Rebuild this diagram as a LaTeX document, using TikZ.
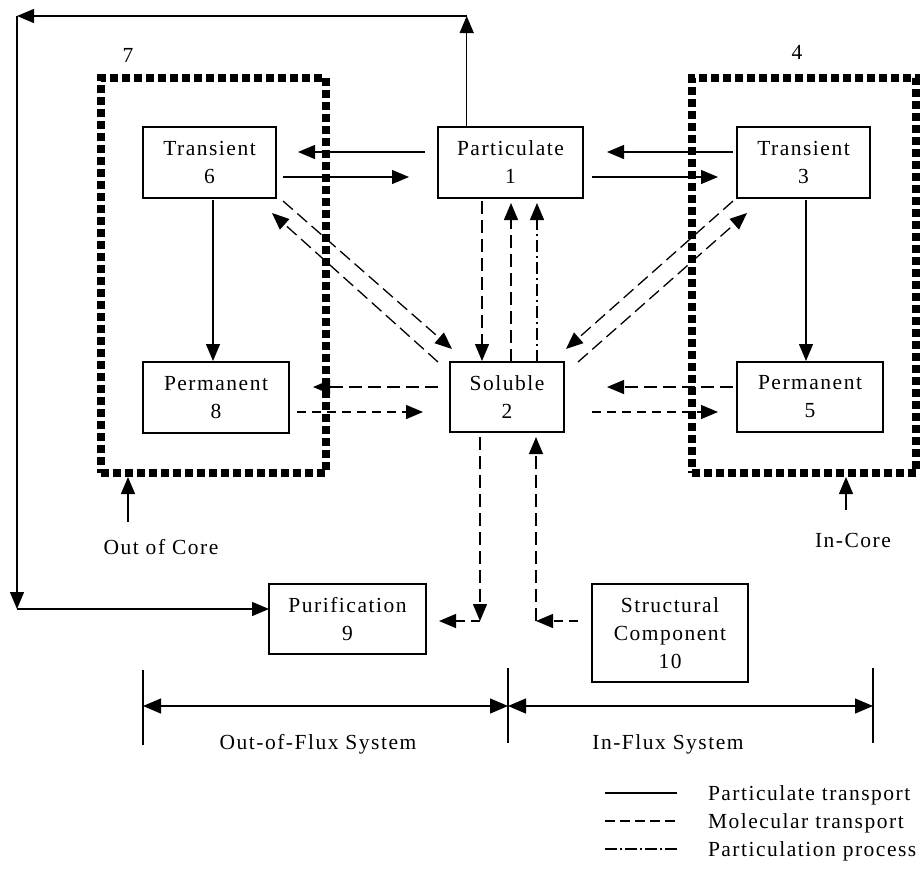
\documentclass[tikz,border=0pt]{standalone}
\usepackage{fontspec}
\setmainfont{Liberation Serif}[LetterSpace=7]
\usetikzlibrary{arrows.meta,calc}
\begin{document}
\begin{tikzpicture}[x=1pt,y=-1pt,
  font=\fontsize{21.5}{28}\selectfont,
  every node/.style={inner sep=0pt, outer sep=0pt},
  box/.style={draw, line width=1.3pt, align=center, minimum height=71pt},
  dotbox/.style={draw, line width=8pt, dash pattern=on 8pt off 4pt},
  conn/.style={line width=1.3pt, -{Triangle[length=17pt,width=14pt]}},
  plain/.style={line width=1.3pt},
  mol/.style={dash pattern=on 13pt off 6pt},
  mols/.style={dash pattern=on 9pt off 6pt},
  part/.style={dash pattern=on 12pt off 4pt on 2pt off 4pt},
  legmol/.style={dash pattern=on 10pt off 5pt},
  legpart/.style={dash pattern=on 12pt off 3pt on 2pt off 3pt},
  dimarr/.style={line width=1.3pt, {Triangle[length=18pt,width=15pt]}-{Triangle[length=18pt,width=15pt]}},
]
\useasboundingbox (0,0) rectangle (921,887);

% dotted groups
\node[dotbox, minimum width=225pt, minimum height=395pt] (b7) at (213.5,275.5) {};
\node[dotbox, minimum width=224pt, minimum height=395pt] (b4) at (804,275.5) {};
\node[anchor=base] (l7) at (128,62) {7};
\node[anchor=base] (l4) at (797,59) {4};

% boxes
\node[box, minimum width=133pt] (t6) at (209.5,162.5) {Transient\\6};
\node[box, minimum width=145pt] (p1) at (510.5,162.5) {Particulate\\1};
\node[box, minimum width=133pt] (t3) at (803.5,162.5) {Transient\\3};
\node[box, minimum width=146pt] (p8) at (216,397.5) {Permanent\\8};
\node[box, minimum width=114pt, minimum height=70pt] (s2) at (507,397) {Soluble\\2};
\node[box, minimum width=146pt, minimum height=70pt] (p5) at (810,397) {Permanent\\5};
\node[box, minimum width=157pt, minimum height=70pt] (p9) at (347.5,619) {Purification\\9};
\node[box, minimum width=156pt, minimum height=98pt] (p10) at (670,633) {Structural\\Component\\10};

% outer loop
\coordinate (tr) at (466.7,16);
\coordinate (tl) at (17,16);
\coordinate (bl) at (17,609);
\draw[conn] (p1.north -| tr) -- (tr);
\draw[conn] (tr) -- (tl);
\draw[conn] (tl) -- (bl);
\draw[conn] (bl) -- (bl -| p9.west);

% particulate transport
\draw[conn] ($(p1.west)+(-13,-10.5)$) -- ($(t6.east)+(22,-10.5)$);
\draw[conn] ($(t6.east)+(7,14.5)$) -- ($(p1.west)+(-29,14.5)$);
\draw[conn] ($(t3.west)+(-4,-10.5)$) -- ($(p1.east)+(24,-10.5)$);
\draw[conn] ($(p1.east)+(9,14.5)$) -- ($(t3.west)+(-19,14.5)$);
\draw[conn] ($(t6.south)+(3.5,2)$) -- ($(p8.north)+(-3,-1)$);
\draw[conn] ($(t3.south)+(2.5,2)$) -- ($(p5.north)+(-4,-1)$);

% molecular transport, horizontal
\draw[conn,mol] ($(s2.west)+(-12,-10)$) -- ($(p8.east)+(24,-10.5)$);
\draw[conn,mols] ($(p8.east)+(8,14.5)$) -- ($(s2.west)+(-27,15)$);
\draw[conn,mol] ($(p5.west)+(-4,-10)$) -- ($(s2.east)+(43,-10)$);
\draw[conn,mols] ($(s2.east)+(28,15)$) -- ($(p5.west)+(-19,15)$);

% vertical between particulate and soluble
\draw[conn,mol] ($(p1.south)+(-28.5,3)$) -- ($(s2.north)+(-25,-1)$);
\draw[conn,mol] ($(s2.north)+(4,0)$) -- ($(p1.south)+(0.5,5)$);
\draw[conn,part] ($(s2.north)+(30,0)$) -- ($(p1.south)+(26.5,5)$);

% diagonals
\draw[conn,mol] ($(t6.south east)+(7,3)$) -- ($(s2.north west)+(2,-13)$);
\draw[conn,mol] ($(s2.north west)+(-12,0)$) -- ($(t6.south east)+(-4,15)$);
\draw[conn,mol] ($(t3.south west)+(-4,3)$) -- ($(s2.north east)+(2,-13)$);
\draw[conn,mol] ($(s2.north east)+(14,0)$) -- ($(t3.south west)+(10,15)$);

% bottom exchanges
\coordinate (c1) at (480,621);
\coordinate (c2) at (536,621);
\draw[conn,mol] ($(s2.south)+(-27,5)$) -- (c1);
\draw[conn,mols] (c1) -- ($(p9.east)+(13,2)$);
\draw[conn,mols] ($(p10.west)+(-14,-12)$) -- (c2);
\draw[conn,mol] (c2) -- ($(s2.south)+(29,5)$);

% core labels
\node[anchor=base] (ooc) at (161,554) {Out of Core};
\node[anchor=base] (inc) at (853,547) {In-Core};
\coordinate (oa) at (128,522);
\coordinate (ia) at (846,510);
\draw[conn] (oa) -- ($(oa |- b7.south)+(0,4)$);
\draw[conn] (ia) -- ($(ia |- b4.south)+(0,4)$);

% flux system dimension lines
\coordinate (d1) at (143,706);
\coordinate (d2) at (508,706);
\coordinate (d3) at (873,706);
\draw[plain] ($(d1)+(0,-36)$) -- ($(d1)+(0,39)$);
\draw[plain] ($(d2)+(0,-38)$) -- ($(d2)+(0,37)$);
\draw[plain] ($(d3)+(0,-38)$) -- ($(d3)+(0,37)$);
\draw[dimarr] (d1) -- (d2);
\draw[dimarr] (d2) -- (d3);
\node[anchor=base] (ofs) at (318,749) {Out-of-Flux System};
\node[anchor=base] (ifs) at (668,749) {In-Flux System};

% legend
\coordinate (g1) at (605,793);
\coordinate (g2) at (605,821);
\coordinate (g3) at (605,849);
\draw[plain] (g1) -- ++(72,0);
\draw[plain,legmol] (g2) -- ++(72,0);
\draw[plain,legpart] (g3) -- ++(72,0);
\node[anchor=base west] (t1) at (708,800) {Particulate transport};
\node[anchor=base west] (t2) at (708,828) {Molecular transport};
\node[anchor=base west] (t3l) at (708,856) {Particulation process};
\end{tikzpicture}
\end{document}
